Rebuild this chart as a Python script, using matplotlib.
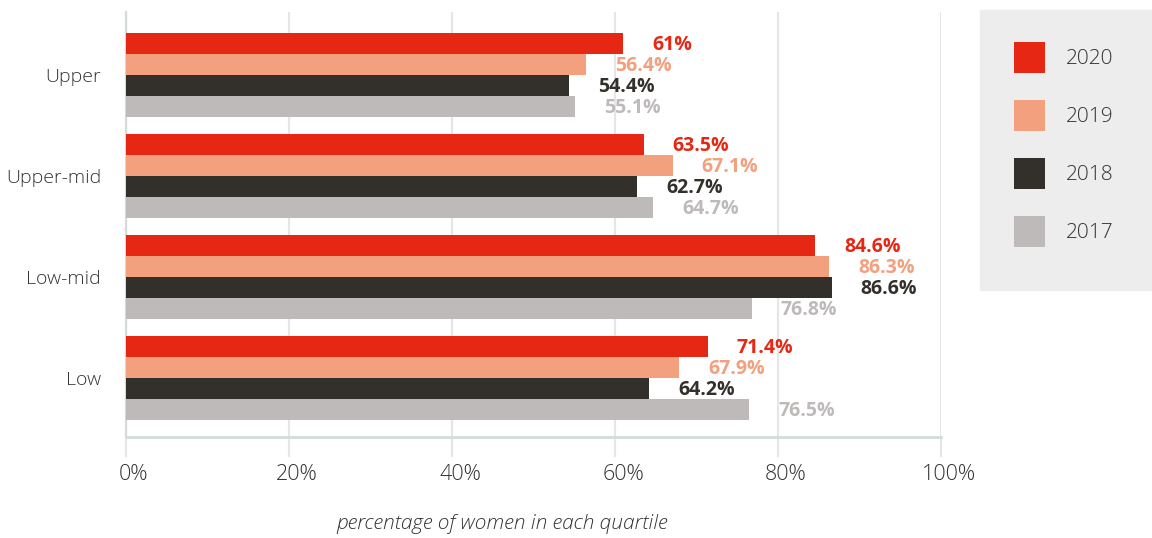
import matplotlib
matplotlib.use("Agg")
import matplotlib.pyplot as plt
import matplotlib.transforms as mtransforms
from matplotlib.patches import Rectangle, Patch
import numpy as np

plt.rcParams['font.family'] = ['Open Sans', 'DejaVu Sans']

categories = ["Low", "Low-mid", "Upper-mid", "Upper"]
years = ["2020", "2019", "2018", "2017"]
v2020 = [71.4, 84.6, 63.5, 61.0]
v2019 = [67.9, 86.3, 67.1, 56.4]
v2018 = [64.2, 86.6, 62.7, 54.4]
v2017 = [76.5, 76.8, 64.7, 55.1]
labels2020 = ["71.4%", "84.6%", "63.5%", "61%"]
labels2019 = ["67.9%", "86.3%", "67.1%", "56.4%"]
labels2018 = ["64.2%", "86.6%", "62.7%", "54.4%"]
labels2017 = ["76.5%", "76.8%", "64.7%", "55.1%"]
xticks = [0, 20, 40, 60, 80, 100]
xticklabels = ["0%", "20%", "40%", "60%", "80%", "100%"]

colors = ["#E52713", "#F3A07E", "#332F2B", "#BFBABA"]
series = [v2020, v2019, v2018, v2017]
series_labels = [labels2020, labels2019, labels2018, labels2017]

W, H = 1152, 538
fig = plt.figure(figsize=(W / 100, H / 100), dpi=100)
ax = fig.add_axes([126 / W, 1 - 437 / H, (941 - 126) / W, (437 - 12) / H])

h = 0.2075
offsets = [1.5 * h, 0.5 * h, -0.5 * h, -1.5 * h]
y = np.arange(len(categories))
for vals, labs, col, off, yr in zip(series, series_labels, colors, offsets, years):
    bars = ax.barh(y + off, vals, height=h, color=col, zorder=3, label=yr)
    for b, lab in zip(bars, labs):
        ax.annotate(lab, (b.get_width(), b.get_y() + b.get_height() / 2),
                    xytext=(29, -1.5), textcoords='offset pixels',
                    ha='left', va='center', color=col, fontsize=14,
                    fontweight='bold', zorder=4)

ax.set_xlim(0, 100)
ax.set_ylim(-0.583, 3.618)
ax.set_yticks(y)
ax.set_yticklabels(categories)
ax.set_xticks(xticks)
ax.set_xticklabels(xticklabels)

grid_col = "#E6E6E6"
spine_col = "#D3DCD9"
ax.grid(axis='x', color=grid_col, linewidth=1.5, zorder=0)
ax.set_axisbelow(True)
for s in ['top', 'right']:
    ax.spines[s].set_visible(False)
ax.spines['left'].set_color(spine_col)
ax.spines['left'].set_linewidth(1.6)
ax.spines['bottom'].set_color(spine_col)
ax.spines['bottom'].set_linewidth(2)
ax.tick_params(axis='y', length=0, pad=18, labelsize=14, labelcolor='#333333')
ax.tick_params(axis='x', length=14.5, width=1.5, color=grid_col, pad=5,
               labelsize=15.5, labelcolor='#333333')
for t in ax.get_yticklabels():
    t.set_fontweight('light')
shift = mtransforms.ScaledTranslation(8 / 100, 0, fig.dpi_scale_trans)
for t in ax.get_xticklabels():
    t.set_fontweight('light')
    t.set_transform(t.get_transform() + shift)

fig.text(502 / W, 1 - 524 / H, "percentage of women in each quartile",
         ha='center', va='center', fontsize=15, style='italic', color='#333333',
         fontweight='light')

# legend background
fig.patches.append(Rectangle((980 / W, 1 - 290 / H), 180 / W, 280 / H,
                             transform=fig.transFigure, color="#EDEDED", zorder=0))
handles = [Patch(facecolor=c, edgecolor='none') for c in colors]
lfs = 15
fpx = lfs * 100 / 72
hh = (31 / fpx - 0.245) / 0.65
fig.legend(handles, years, loc='upper left',
           bbox_to_anchor=(1014 / W, 1 - 42 / H), bbox_transform=fig.transFigure,
           frameon=False, fontsize=lfs, borderpad=0, borderaxespad=0,
           handlelength=31 / fpx, handleheight=hh, labelspacing=27 / fpx,
           handletextpad=21 / fpx, labelcolor='#333333',
           prop={'size': lfs, 'weight': 'light'})

fig.savefig("out.png", dpi=100)
